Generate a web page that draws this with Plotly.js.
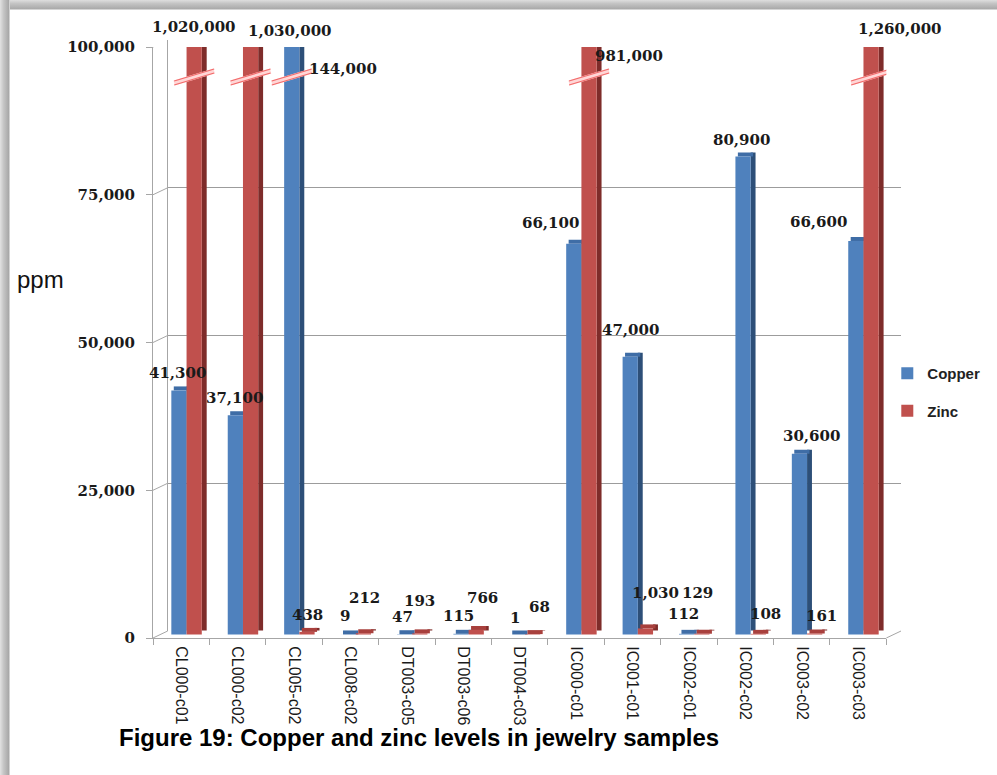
<!DOCTYPE html>
<html>
<head>
<meta charset="utf-8">
<script src="https://cdn.plot.ly/plotly-3.0.1.min.js"></script>
<style>
  html, body { margin: 0; padding: 0; background: #ffffff; }
  #wrap { position: relative; width: 997px; height: 775px; overflow: hidden; }
  #chart { position: absolute; left: 0; top: 0; width: 997px; height: 775px; }
  #frameTop { position: absolute; left: 0; top: 0; width: 997px; height: 10px;
    background: linear-gradient(to bottom, #dedede 0%, #c4c4c4 35%, #a9a9a9 90%, #ffffff 100%); pointer-events: none; }
  #frameLeft { position: absolute; left: 0; top: 0; width: 10px; height: 775px;
    background: linear-gradient(to right, #e2e2e2 0%, #c6c6c6 35%, #a6a6a6 90%, #ffffff 100%); pointer-events: none; }
</style>
</head>
<body>
<div id="wrap">
  <div id="chart"></div>
  <div id="frameTop"></div>
  <div id="frameLeft"></div>
</div>
<script>
// ---------------- data ----------------
const categories = ['CL000-c01','CL000-c02','CL005-c02','CL008-c02','DT003-c05','DT003-c06','DT004-c03',
                    'IC000-c01','IC001-c01','IC002-c01','IC002-c02','IC003-c02','IC003-c03'];
const copper = [41300, 37100, 144000, 9, 47, 115, 1, 66100, 47000, 112, 80900, 30600, 66600];
const zinc   = [1020000, 1030000, 438, 212, 193, 766, 68, 981000, 1030, 129, 108, 161, 1260000];
const axisCap = 100000;
const yTicks = [0, 25000, 50000, 75000, 100000];
const seriesNames = ['Copper', 'Zinc'];
const yAxisTitle = 'ppm';
const caption = 'Figure 19: Copper and zinc levels in jewelry samples';

// ---------------- layout config (positions / styles) ----------------
const W = 997, H = 775;
const M = {l: 153, r: 80, t: 40, b: 137};
const paperW = W - M.l - M.r;      // 764
const paperH = H - M.t - M.b;      // 598
const depthX = 15, depthY = 7;     // 3D wall offset in px
const frontW = paperW - depthX, frontH = paperH - depthY;
const u = axisCap / frontH;        // data units per pixel
const frontBase = 3.5 * u, rise = 4 * u;

// label pixel shifts (relative to bar value anchor)
const copperShift = [[-4,21],[-3,21],[49,-22],[-5,22],[-4,21],[-5,21],[-5,20],[-26,24],[-2,30],[-5,23],[-4,20],[10,21],[-40,22]];
const zincShift   = [[13,20],[52,16],[13,20],[14,39],[13,36],[19,35],[20,31],[53,-9],[23,39],[9,44],[20,23],[20,21],[42,18]];

const colors = {
  cuFront: '#4f81bd', cuSide: '#2d4f78', cuTop: '#3f6da6',
  znFront: '#c0504d', znSide: '#7e2c2a', znTop: '#a8403d'
};
const barW = 0.27, sideW = 5 / (frontW / categories.length);
const cuOff = -0.175, znOff = cuOff + barW;

const shown = arr => arr.map(v => Math.min(v, axisCap));
const cuShown = shown(copper), znShown = shown(zinc);
const fmt = v => v.toLocaleString('en-US');

function barTrace(name, y, base, offset, width, color, legend, group) {
  return {
    type: 'bar', name: name, x: categories, y: y, base: base,
    offset: offset, width: width, xaxis: 'x2', yaxis: 'y2',
    marker: {color: color, line: {width: 0}},
    showlegend: legend, legendgroup: group, hoverinfo: 'skip'
  };
}

const traces = [
  // dummy trace for the back wall subplot
  {type: 'scatter', mode: 'markers', x: [0.5], y: [0], xaxis: 'x', yaxis: 'y',
   marker: {opacity: 0}, showlegend: false, hoverinfo: 'skip'},
  barTrace('cuSide', cuShown, frontBase + rise, cuOff + barW, sideW, colors.cuSide, false, 'a'),
  barTrace('cuTop', cuShown.map(() => rise), cuShown.map(v => v + frontBase), cuOff + sideW / 2, barW, colors.cuTop, false, 'a'),
  barTrace(seriesNames[0], cuShown, frontBase, cuOff, barW, colors.cuFront, true, 'a'),
  barTrace('znSide', znShown, frontBase + rise, znOff + barW, sideW, colors.znSide, false, 'b'),
  barTrace('znTop', znShown.map(() => rise), znShown.map(v => v + frontBase), znOff + sideW / 2, barW, colors.znTop, false, 'b'),
  barTrace(seriesNames[1], znShown, frontBase, znOff, barW, colors.znFront, true, 'b')
];

const labelFont = {family: 'DejaVu Serif', size: 15, color: '#1a1a1a', weight: 'bold'};
const annotations = [];
categories.forEach((c, i) => {
  annotations.push({xref: 'x2', yref: 'y2', x: i, y: cuShown[i], text: fmt(copper[i]),
    showarrow: false, xanchor: 'center', yanchor: 'middle',
    xshift: copperShift[i][0], yshift: copperShift[i][1], font: labelFont});
  annotations.push({xref: 'x2', yref: 'y2', x: i, y: znShown[i], text: fmt(zinc[i]),
    showarrow: false, xanchor: 'center', yanchor: 'middle',
    xshift: zincShift[i][0], yshift: zincShift[i][1], font: labelFont});
});
annotations.push({xref: 'paper', yref: 'paper', x: (12 - M.l) / paperW, y: (638 - 279) / paperH,
  xanchor: 'left', yanchor: 'middle', showarrow: false, text: yAxisTitle,
  font: {family: 'Liberation Sans', size: 24, color: '#111'}});
annotations.push({xref: 'paper', yref: 'paper', x: (116 - M.l) / paperW, y: (638 - 738) / paperH,
  xanchor: 'left', yanchor: 'middle', showarrow: false, text: caption,
  font: {family: 'Liberation Sans', size: 24, color: '#000', weight: 'bold'}});

const gridColor = '#9c9c9c', lineColor = '#a6a6a6';
const shapes = [];
// left wall connectors
yTicks.forEach(v => {
  shapes.push({type: 'line', xref: 'paper', x0: 0, x1: depthX / paperW,
    yref: 'y2', ysizemode: 'pixel', yanchor: v, y0: 0, y1: depthY,
    line: {color: lineColor, width: 1}});
});
// floor right edge
shapes.push({type: 'line', xref: 'paper', yref: 'paper', x0: frontW / paperW, y0: 0, x1: 1, y1: depthY / paperH,
  line: {color: lineColor, width: 1}});
// axis break marks on bars above the cap
function breakMark(xc) {
  const base = {type: 'line', xref: 'x2', xsizemode: 'pixel', xanchor: xc, x0: -20, x1: 20,
                yref: 'y2', ysizemode: 'pixel', yanchor: axisCap};
  shapes.push(Object.assign({}, base, {y0: -36, y1: -24, line: {color: '#ffd6d6', width: 5}}));
  shapes.push(Object.assign({}, base, {y0: -34, y1: -22, line: {color: '#f26a6a', width: 1.2}}));
  shapes.push(Object.assign({}, base, {y0: -38, y1: -26, line: {color: '#f26a6a', width: 1.2}}));
}
categories.forEach((c, i) => {
  if (copper[i] > axisCap) breakMark(i + cuOff + barW / 2);
  if (zinc[i] > axisCap) breakMark(i + znOff + barW / 2);
});

const layout = {
  width: W, height: H,
  margin: M,
  paper_bgcolor: '#ffffff', plot_bgcolor: 'rgba(0,0,0,0)',
  barmode: 'overlay',
  showlegend: true,
  legend: {x: (903 - M.l) / paperW, xanchor: 'left', y: (638 - 392) / paperH, yanchor: 'middle',
           traceorder: 'grouped', tracegroupgap: 15, bgcolor: 'rgba(0,0,0,0)',
           font: {family: 'Liberation Sans', size: 15, color: '#222', weight: 'bold'}},
  // back wall subplot
  xaxis: {domain: [depthX / paperW, 1], range: [0, 1], visible: false, anchor: 'y', fixedrange: true},
  yaxis: {domain: [depthY / paperH, 1], range: [0, axisCap], anchor: 'x', tickvals: yTicks,
          showticklabels: false, ticks: '', showgrid: true, gridcolor: gridColor, gridwidth: 1,
          zeroline: false, showline: true, linecolor: lineColor, linewidth: 1, fixedrange: true},
  // front subplot with the bars
  xaxis2: {domain: [0, frontW / paperW], anchor: 'y2', type: 'category', categoryorder: 'array',
           categoryarray: categories, range: [-0.5, categories.length - 0.5],
           showline: true, linecolor: lineColor, linewidth: 1, ticks: 'outside', tickson: 'boundaries',
           ticklen: 6, tickcolor: lineColor, tickangle: 90, showgrid: false, zeroline: false,
           ticklabelstandoff: 4,
           tickfont: {family: 'Liberation Sans', size: 16, color: '#1a1a1a'}, fixedrange: true},
  yaxis2: {domain: [0, frontH / paperH], anchor: 'x2', range: [0, axisCap], tickvals: yTicks,
           tickformat: ',', showline: true, linecolor: lineColor, linewidth: 1, ticks: 'outside',
           ticklen: 6, tickcolor: lineColor, showgrid: false, zeroline: false, ticklabelstandoff: 8,
           tickfont: {family: 'DejaVu Serif', size: 15, color: '#1a1a1a', weight: 'bold'}, fixedrange: true},
  annotations: annotations,
  shapes: shapes
};

Plotly.newPlot('chart', traces, layout, {displayModeBar: false, staticPlot: true});
</script>
</body>
</html>
